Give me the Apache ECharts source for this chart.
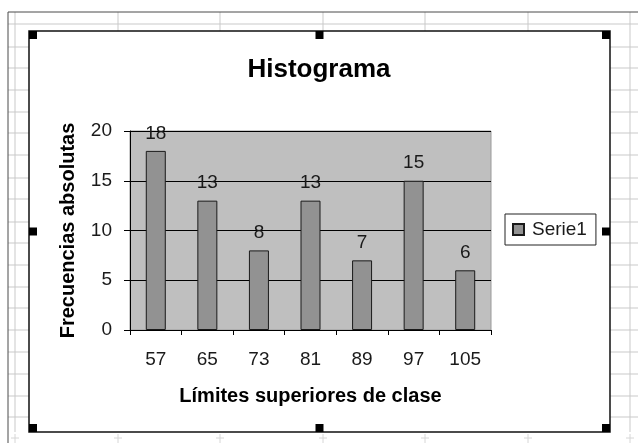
<!DOCTYPE html>
<html>
<head>
<meta charset="utf-8">
<script src="https://cdn.jsdelivr.net/npm/echarts@6/dist/echarts.min.js"></script>
<style>
  html, body { margin: 0; padding: 0; background: #fff; }
  #chart { width: 638px; height: 443px; }
</style>
</head>
<body>
<div id="chart"></div>
<script>
// Class upper limits and absolute frequencies
const categories = ['57', '65', '73', '81', '89', '97', '105'];
const frequencies = [18, 13, 8, 13, 7, 15, 6];
const yTicks = [0, 5, 10, 15, 20];

const FONT = 'Liberation Sans, Arial, sans-serif';

// Worksheet cells behind the chart object
const colX = [15, 118, 220, 323, 425, 528, 630];
const rowY = [24, 47, 68, 90, 112, 133, 155, 178, 199, 222, 243, 265, 287, 308, 330, 352, 374, 396, 417];
const sheet = [];
colX.forEach(x => {
  sheet.push({
    type: 'line', z: -20, silent: true,
    shape: { x1: x, y1: 12, x2: x, y2: 432 },
    style: { stroke: '#c9c9c9', lineWidth: 1 }
  });
  // faint cross marks along the bottom strip
  sheet.push({
    type: 'line', z: -20, silent: true,
    shape: { x1: x, y1: 434, x2: x, y2: 443 },
    style: { stroke: '#d6d6d6', lineWidth: 1 }
  });
  sheet.push({
    type: 'line', z: -20, silent: true,
    shape: { x1: x - 4, y1: 438, x2: x + 4, y2: 438 },
    style: { stroke: '#d6d6d6', lineWidth: 1 }
  });
});
rowY.forEach(y => sheet.push({
  type: 'line', z: -20, silent: true,
  shape: { x1: 8, y1: y, x2: 638, y2: y },
  style: { stroke: '#c9c9c9', lineWidth: 1 }
}));
sheet.push({ type: 'line', z: -19, shape: { x1: 8, y1: 12, x2: 638, y2: 12 }, style: { stroke: '#4a4a4a', lineWidth: 1 } });
sheet.push({ type: 'line', z: -19, shape: { x1: 8, y1: 12, x2: 8, y2: 443 }, style: { stroke: '#4a4a4a', lineWidth: 1 } });

// Chart object frame and its selection handles
const frame = { x: 29, y: 31, w: 581, h: 401 };
sheet.push({
  type: 'rect', z: -15, silent: true,
  shape: { x: frame.x, y: frame.y, width: frame.w, height: frame.h },
  style: { fill: '#ffffff', stroke: '#111', lineWidth: 1.5 }
});
const hs = 8;
const hx = [frame.x, frame.x + frame.w / 2 - hs / 2, frame.x + frame.w - hs];
const hy = [frame.y, frame.y + frame.h / 2 - hs / 2, frame.y + frame.h - hs];
hx.forEach((x, i) => hy.forEach((y, j) => {
  if (i === 1 && j === 1) return;
  sheet.push({ type: 'rect', z: 100, shape: { x: x, y: y, width: hs, height: hs }, style: { fill: '#000' } });
}));

const chart = echarts.init(document.getElementById('chart'));
chart.setOption({
  backgroundColor: '#ffffff',
  animation: false,
  textStyle: { fontFamily: FONT },
  title: {
    text: 'Histograma',
    left: 'center',
    top: 52,
    textStyle: { fontFamily: FONT, fontSize: 26, fontWeight: 'bold', color: '#000' }
  },
  graphic: sheet,
  legend: {
    data: ['Serie1'],
    left: 505,
    top: 214,
    icon: 'rect',
    itemWidth: 11,
    itemHeight: 11,
    padding: [6, 9, 6, 7],
    borderColor: '#222',
    borderWidth: 1,
    backgroundColor: '#fff',
    textStyle: { fontFamily: FONT, fontSize: 19, color: '#1a1a1a', padding: [0, 0, 0, 3] }
  },
  grid: {
    left: 130, top: 131, width: 361, height: 199,
    show: true,
    backgroundColor: '#bfbfbf',
    borderColor: '#9a9a9a',
    borderWidth: 1
  },
  xAxis: {
    type: 'category',
    data: categories,
    boundaryGap: true,
    name: 'Límites superiores de clase',
    nameLocation: 'middle',
    nameGap: 56,
    nameTextStyle: { fontFamily: FONT, fontSize: 20, fontWeight: 'bold', color: '#000' },
    axisLine: { lineStyle: { color: '#000', width: 1 } },
    axisTick: { show: true, length: 5, interval: 0, alignWithLabel: false, lineStyle: { color: '#000' } },
    axisLabel: { margin: 20, fontFamily: FONT, fontSize: 19, color: '#1a1a1a', interval: 0 },
    splitLine: { show: false }
  },
  yAxis: {
    type: 'value',
    min: yTicks[0],
    max: yTicks[yTicks.length - 1],
    interval: yTicks[1] - yTicks[0],
    name: 'Frecuencias absolutas',
    nameLocation: 'middle',
    nameGap: 52,
    nameTextStyle: { fontFamily: FONT, fontSize: 20, fontWeight: 'bold', color: '#000' },
    axisLine: { show: true, lineStyle: { color: '#000', width: 1 } },
    axisTick: { show: true, length: 6, lineStyle: { color: '#000' } },
    axisLabel: { margin: 18, fontFamily: FONT, fontSize: 19, color: '#1a1a1a' },
    splitLine: { show: true, lineStyle: { color: '#000', width: 1 } }
  },
  series: [{
    name: 'Serie1',
    type: 'bar',
    data: frequencies,
    barWidth: 20,
    itemStyle: { color: '#929292', borderColor: '#1a1a1a', borderWidth: 1 },
    label: {
      show: true,
      position: 'top',
      distance: 8,
      fontFamily: FONT,
      fontSize: 19,
      color: '#1a1a1a'
    }
  }]
});
</script>
</body>
</html>
